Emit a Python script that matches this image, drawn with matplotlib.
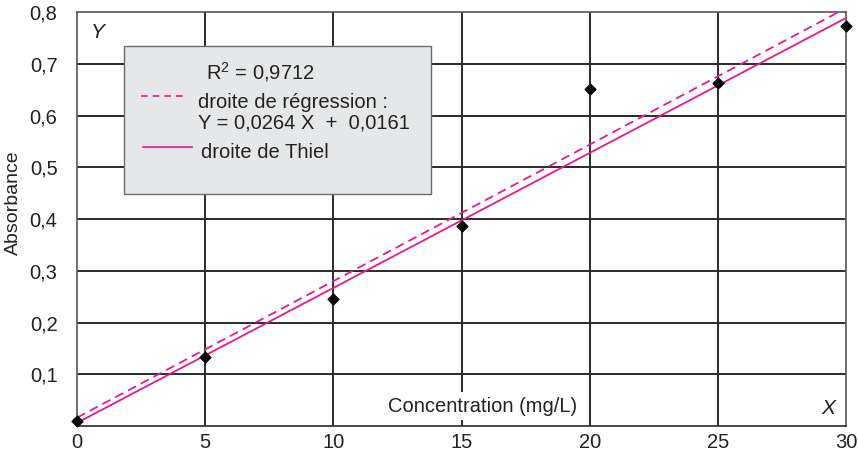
import matplotlib
matplotlib.use("Agg")
import matplotlib.pyplot as plt
import numpy as np
from matplotlib.patches import Rectangle
from matplotlib.lines import Line2D

plt.rcParams['font.family'] = ['Liberation Sans', 'DejaVu Sans']
plt.rcParams['mathtext.fontset'] = 'custom'
plt.rcParams['mathtext.rm'] = 'Liberation Sans'

conc = [0, 5, 10, 15, 20, 25, 30]
absorb = [0.010, 0.134, 0.245, 0.387, 0.651, 0.663, 0.774]
reg_slope, reg_int = 0.0264, 0.0161
thiel_slope, thiel_int = 0.0261, 0.006
xticks = [0, 5, 10, 15, 20, 25, 30]
yticks = [0.1, 0.2, 0.3, 0.4, 0.5, 0.6, 0.7, 0.8]
ytick_labels = ['0,1', '0,2', '0,3', '0,4', '0,5', '0,6', '0,7', '0,8']

pink = '#e8198b'
txt = '#222222'
FS = 14.5
W, H = 858, 459
def fx(px): return px / W
def fy(py): return 1 - py / H

fig = plt.figure(figsize=(8.58, 4.59), dpi=100)
ax = fig.add_axes([fx(77), fy(426), (846-77)/W, (426-12.3)/H])
ax.set_xlim(0, 30)
ax.set_ylim(0, 0.8)

for xv in xticks[1:-1]:
    ax.axvline(xv, color='#2b2b2b', lw=1.4, zorder=1)
for yv in yticks[:-1]:
    ax.axhline(yv, color='#2b2b2b', lw=1.4, zorder=1)
for s in ax.spines.values():
    s.set_color('#555555')
    s.set_linewidth(1.2)
ax.spines['bottom'].set_color('#2b2b2b')

xs = np.array([0, 30])
ax.plot(xs, reg_slope*xs + reg_int, color=pink, lw=1.3, ls=(0, (5, 3)), zorder=3)
ax.plot(xs, thiel_slope*xs + thiel_int, color=pink, lw=1.3, zorder=3)
ax.scatter(conc, absorb, marker='D', s=30, color='black', zorder=5, clip_on=False)

ax.set_xticks(xticks)
ax.set_xticklabels([str(v) for v in xticks])
ax.set_yticks(yticks)
ax.set_yticklabels(ytick_labels)
ax.tick_params(length=0, labelsize=FS, colors=txt)
ax.tick_params(axis='x', pad=5)
ax.tick_params(axis='y', pad=14)
for lab in ax.get_yticklabels():
    lab.set_verticalalignment('center_baseline')

fig.text(fx(13), fy(203), 'Absorbance', fontsize=14, color=txt, rotation=90, ha='center', va='center')
fig.text(fx(483), fy(406), 'Concentration (mg/L)', fontsize=FS, color=txt, ha='center', va='center',
         bbox=dict(facecolor='white', edgecolor='none', pad=3), zorder=6)
fig.text(fx(98), fy(32), 'Y', fontsize=15, style='italic', color=txt, ha='center', va='center')
fig.text(fx(828), fy(408), 'X', fontsize=15, style='italic', color=txt, ha='center', va='center')

# legend box
box = Rectangle((fx(123.5), fy(194)), fx(431) - fx(123.5), fy(46) - fy(194),
                transform=fig.transFigure, facecolor='#e6e7e8', edgecolor='#6b6b6b', lw=1.0, zorder=10)
fig.add_artist(box)
fig.text(fx(206), fy(72), r'R$^{2}$ = 0,9712', fontsize=FS, color=txt, va='center', ha='left', zorder=11)
fig.add_artist(Line2D([fx(141), fx(187)], [fy(96), fy(96)], transform=fig.transFigure, color=pink, lw=1.2, ls=(0, (4, 3)), zorder=11))
fig.text(fx(198), fy(102), 'droite de régression :', fontsize=FS, color=txt, va='center', ha='left', zorder=11)
fig.text(fx(198), fy(123), 'Y = 0,0264 X  +  0,0161', fontsize=FS, color=txt, va='center', ha='left', zorder=11)
fig.add_artist(Line2D([fx(143), fx(192)], [fy(147), fy(147)], transform=fig.transFigure, color=pink, lw=1.2, zorder=11))
fig.text(fx(201), fy(152), 'droite de Thiel', fontsize=FS, color=txt, va='center', ha='left', zorder=11)

fig.savefig('out.png', dpi=100)
